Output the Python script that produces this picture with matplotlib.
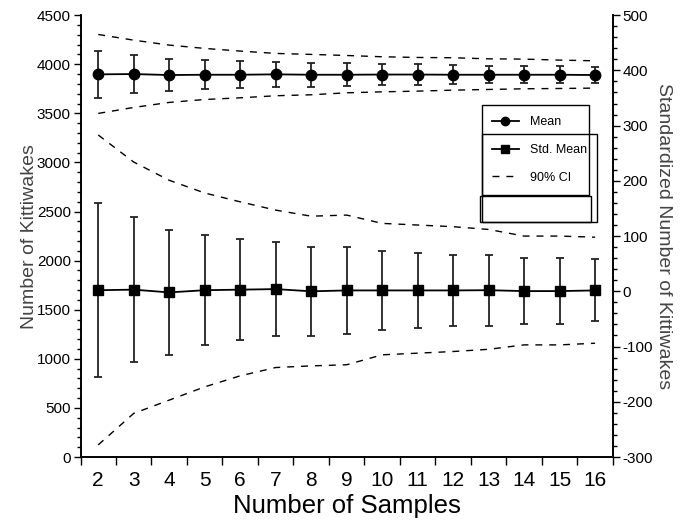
import numpy as np
import matplotlib.pyplot as plt
from matplotlib.ticker import MultipleLocator, FixedLocator, NullFormatter
from matplotlib.patches import Rectangle
from matplotlib.lines import Line2D

plt.rcParams['font.family'] = ['Liberation Sans', 'DejaVu Sans']
plt.rcParams['axes.unicode_minus'] = False

samples = np.arange(2, 17)

# mean number of kittiwakes (left axis) with error bars and 90% CI
mean = [3897, 3900, 3890, 3893, 3893, 3897, 3893, 3893, 3895, 3895, 3893, 3893, 3893, 3893, 3890]
mean_err = [240, 190, 166, 148, 139, 128, 120, 118, 104, 104, 95, 88, 87, 87, 83]
mean_ci_hi = [4303, 4245, 4195, 4161, 4134, 4110, 4100, 4089, 4076, 4069, 4066, 4055, 4052, 4042, 4035]
mean_ci_lo = [3499, 3560, 3611, 3641, 3658, 3679, 3689, 3709, 3719, 3726, 3736, 3743, 3750, 3753, 3757]

# standardized mean (right axis) with error bars and 90% CI
std_mean = [2, 3, -2, 2, 3, 4, 0, 1.6, 1.6, 1.6, 1.6, 2, 0.4, 0.4, 1.6]
std_err = [157, 131, 113, 100, 91, 85, 81, 78, 71, 68, 65, 64, 59, 59, 56]
std_ci_hi = [283, 234, 201, 178, 162, 147, 136, 138, 123, 120, 117, 112, 100, 100, 98]
std_ci_lo = [-278, -221, -197, -173, -153, -138, -135, -133, -115, -112, -109, -105, -97, -97, -94]

fig = plt.figure(figsize=(6.94, 5.22), dpi=100)
ax = fig.add_axes([0.116, 0.1245, 0.767, 0.8465])
ax2 = ax.twinx()

lab_color = '#444444'
dash = (0, (5, 5))

# left axis: mean
ax.errorbar(samples, mean, yerr=mean_err, color='black', ecolor='#222222',
            elinewidth=1.3, capsize=3, capthick=1.3, marker='o', markersize=7.5,
            linewidth=1.3)
ax.plot(samples, mean_ci_hi, color='black', linestyle=dash, linewidth=1.0)
ax.plot(samples, mean_ci_lo, color='black', linestyle=dash, linewidth=1.0)

# right axis: standardized mean
ax2.errorbar(samples, std_mean, yerr=std_err, color='black', ecolor='#222222',
             elinewidth=1.3, capsize=3, capthick=1.3, marker='s', markersize=7,
             linewidth=1.3)
ax2.plot(samples, std_ci_hi, color='black', linestyle=dash, linewidth=1.0)
ax2.plot(samples, std_ci_lo, color='black', linestyle=dash, linewidth=1.0)

ax.set_xlim(1.5, 16.5)
ax.set_ylim(0, 4500)
ax2.set_ylim(-300, 500)

# x ticks between categories, labels centred on categories
ax.xaxis.set_major_locator(FixedLocator(np.arange(1.5, 17, 1)))
ax.xaxis.set_major_formatter(NullFormatter())
ax.xaxis.set_minor_locator(FixedLocator(samples))
ax.set_xticklabels([str(s) for s in samples], minor=True)
ax.tick_params(axis='x', which='major', direction='out', length=6, width=1)
ax.tick_params(axis='x', which='minor', length=0, labelsize=15, pad=10)

ax.yaxis.set_major_locator(MultipleLocator(500))
ax.yaxis.set_minor_locator(MultipleLocator(100))
ax.tick_params(axis='y', which='major', direction='out', length=5, width=1, labelsize=11, pad=2)
ax.tick_params(axis='y', which='minor', direction='out', length=3, width=1)

ax2.yaxis.set_major_locator(MultipleLocator(100))
ax2.yaxis.set_minor_locator(MultipleLocator(20))
ax2.tick_params(axis='y', which='major', direction='out', length=5, width=1, labelsize=11, pad=2)
ax2.tick_params(axis='y', which='minor', direction='out', length=3, width=1)

for a in (ax, ax2):
    a.spines['top'].set_visible(False)
    for s in a.spines.values():
        s.set_linewidth(1.2)

ax.set_xlabel('Number of Samples', fontsize=18.5, labelpad=3)
ax.set_ylabel('Number of Kittiwakes', fontsize=14, color=lab_color, labelpad=-1)
ax2.set_ylabel('Standardized Number of Kittiwakes', fontsize=14, color=lab_color,
               rotation=270, labelpad=14)

# legend with the odd overlapping frames of the original
handles = [Line2D([], [], color='black', marker='o', markersize=6, linewidth=1.3),
           Line2D([], [], color='black', marker='s', markersize=6, linewidth=1.3),
           Line2D([], [], color='black', linestyle=dash, linewidth=1.0)]
labels = ['Mean', 'Std. Mean', '90% CI']
leg = ax2.legend(handles, labels, loc='upper left', bbox_to_anchor=(0.762, 0.785),
                 prop={'size': 9}, frameon=False,
                 borderpad=0, labelspacing=1.25, handlelength=2.1, handletextpad=0.9)
leg.set_zorder(5)


def frame(x0, y0, x1, y1):
    # frame given in axes fractions
    ax2.add_patch(Rectangle((x0, y0), x1 - x0, y1 - y0, transform=ax.transAxes,
                            fill=False, edgecolor='black', linewidth=1.0, zorder=6))


frame(0.755, 0.593, 0.956, 0.796)
frame(0.755, 0.532, 0.971, 0.732)
frame(0.751, 0.532, 0.959, 0.590)

fig.savefig('out.png', dpi=100)
